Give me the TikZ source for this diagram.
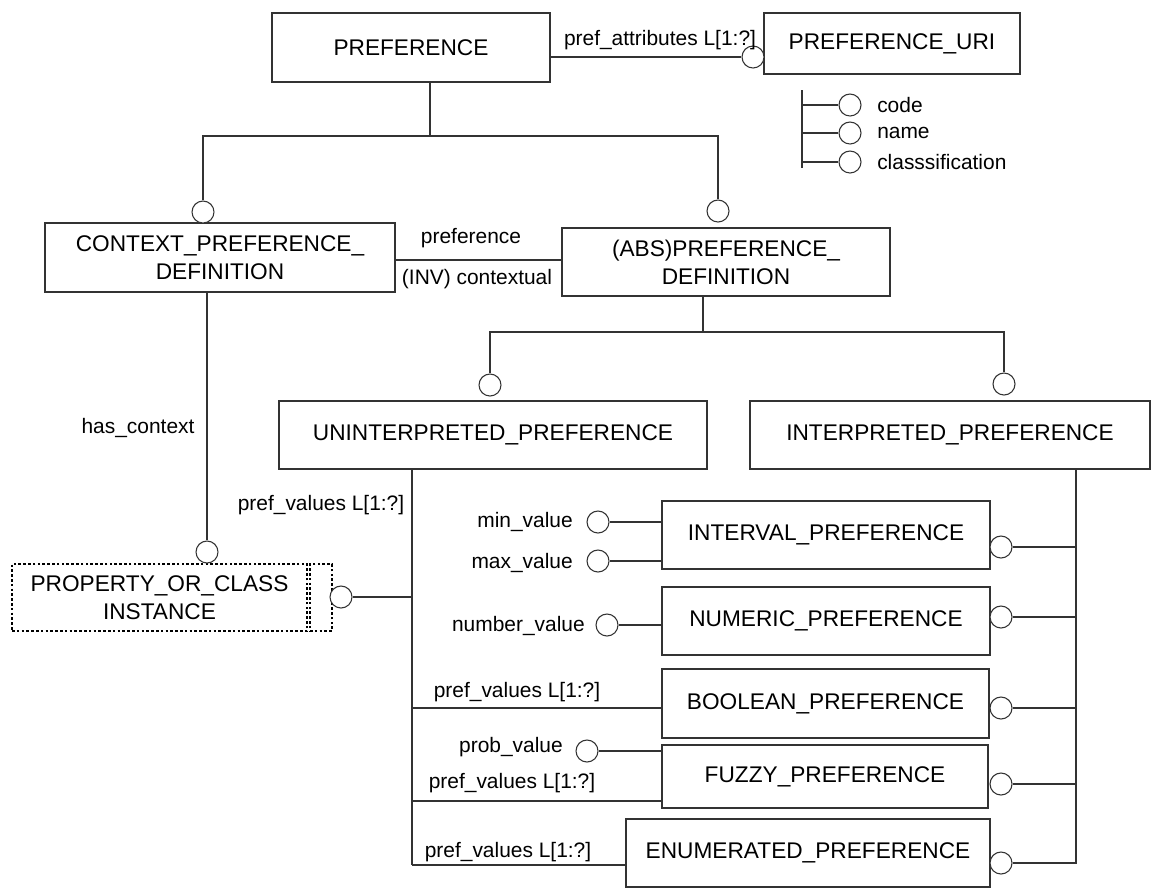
\documentclass[tikz,border=0pt]{standalone}
\usepackage{fontspec}
\setmainfont{Liberation Sans}
\definecolor{ln}{HTML}{333333}
\newcommand\mkbox[7]{%
  \pgfmathsetmacro\bcx{(#3+#5)/2}\pgfmathsetmacro\bcy{(#4+#6)/2}%
  \pgfmathsetmacro\bw{(#5-#3)*0.75}\pgfmathsetmacro\bh{(#6-#4)*0.75}%
  \node[#1, minimum width=\bw pt, minimum height=\bh pt] (#2) at (\bcx,\bcy) {#7};}
\begin{document}
\begin{tikzpicture}[x=0.75pt,y=-0.75pt,
  box/.style={draw=ln, line width=0.8pt, inner sep=0pt, align=center, font=\fontsize{17}{21}\selectfont},
  dotbox/.style={draw=black, line width=2pt, dash pattern=on 2pt off 1.6pt, inner sep=0pt, align=center, font=\fontsize{17}{21}\selectfont},
  circ/.style={circle, draw=ln, line width=0.8pt, fill=white, minimum size=16.5pt, inner sep=0pt},
  lbl/.style={inner sep=0pt, font=\fontsize{15.7}{19}\selectfont},
  conn/.style={draw=ln, line width=0.8pt}]
\path[fill=white] (0,0) rectangle (1160,894);
\useasboundingbox (0,0) rectangle (1160,894);

% boxes
\mkbox{box}{pref}{272}{13}{550}{82}{PREFERENCE}
\mkbox{box}{uri}{764}{13}{1020}{74}{PREFERENCE\_URI}
\mkbox{box}{ctx}{45}{223}{395}{292}{CONTEXT\_PREFERENCE\_\\DEFINITION}
\mkbox{box}{abs}{562}{228}{890}{296}{(ABS)PREFERENCE\_\\DEFINITION}
\mkbox{box}{unint}{279}{401}{707}{469}{UNINTERPRETED\_PREFERENCE}
\mkbox{box}{interp}{750}{401}{1150}{469}{INTERPRETED\_PREFERENCE}
\mkbox{box}{interval}{662}{501}{990}{569}{INTERVAL\_PREFERENCE}
\mkbox{box}{numeric}{662}{587}{990}{655}{NUMERIC\_PREFERENCE}
\mkbox{box}{boolean}{662}{669}{989}{738}{BOOLEAN\_PREFERENCE}
\mkbox{box}{fuzzy}{662}{745}{988}{808}{FUZZY\_PREFERENCE}
\mkbox{box}{enum}{626}{819}{990}{887}{ENUMERATED\_PREFERENCE}
\mkbox{dotbox}{prop}{12}{564}{307}{631}{PROPERTY\_OR\_CLASS\\INSTANCE}
\mkbox{dotbox}{propx}{310}{564}{332}{631}{}

% junction coordinates
\coordinate (j1) at (430,136);
\coordinate (j2) at (703,332);
\coordinate (uv) at (412,865);
\coordinate (rv) at (1076,864);
\coordinate (ut) at (802,90);
\coordinate (ub) at (802,168);

% circles
\node[circ] (curi) at (753,57) {};
\node[circ] (cctx) at (203,212) {};
\node[circ] (cabs) at (718,211) {};
\node[circ] (cunint) at (490,385) {};
\node[circ] (cinterp) at (1004,384) {};
\node[circ] (cproptop) at (207,552) {};
\node[circ] (cpropr) at (341,597) {};
\node[circ] (ccode) at (850,105) {};
\node[circ] (cname) at (850,133) {};
\node[circ] (cclass) at (850,162) {};
\node[circ] (cmin) at (598,522) {};
\node[circ] (cmax) at (598,561) {};
\node[circ] (cnum) at (607,625) {};
\node[circ] (cprob) at (587,751) {};
\node[circ] (r1) at (1001,547) {};
\node[circ] (r2) at (1001,617) {};
\node[circ] (r3) at (1001,708) {};
\node[circ] (r4) at (1001,784) {};
\node[circ] (r5) at (1001,863) {};

% connectors
\draw[conn] (pref.east |- curi) -- (curi);
\draw[conn] (pref.south -| j1) -- (j1);
\draw[conn] (cctx.north) |- (j1) -| (cabs.north);
\draw[conn] (ctx.east |- 0,260) -- (abs.west |- 0,260);
\draw[conn] (abs.south -| j2) -- (j2);
\draw[conn] (cunint.north) |- (j2) -| (cinterp.north);
\draw[conn] (ctx.south -| cproptop) -- (cproptop);
\draw[conn] (unint.south -| uv) -- (uv);
\draw[conn] (cpropr) -- (cpropr -| uv);
\draw[conn] (interp.south -| rv) -- (rv);
\foreach \c in {r1,r2,r3,r4,r5} \draw[conn] (\c) -- (\c -| rv);
\draw[conn] (ut) -- (ub);
\foreach \c in {ccode,cname,cclass} \draw[conn] (\c) -- (\c -| ut);
\draw[conn] (cmin) -- (cmin -| interval.west);
\draw[conn] (cmax) -- (cmax -| interval.west);
\draw[conn] (cnum) -- (cnum -| numeric.west);
\draw[conn] (cprob) -- (cprob -| fuzzy.west);
\draw[conn] (uv |- 0,708) -- (boolean.west |- 0,708);
\draw[conn] (uv |- 0,801) -- (fuzzy.west |- 0,801);
\draw[conn] (uv) -- (uv -| enum.west);

% labels
\node[lbl] (lattr) at (660,40) {pref\_attributes L[1:?]};
\node[lbl, anchor=west] (lcode) at (877,105) {code};
\node[lbl, anchor=west] (lname) at (877,133) {name};
\node[lbl, anchor=west] (lclass) at (877,162) {classsification};
\node[lbl] (lpref) at (471,238) {preference};
\node[lbl] (linv) at (477,279) {(INV) contextual};
\node[lbl] (lctx) at (138,428) {has\_context};
\node[lbl] (lpv1) at (321,505) {pref\_values L[1:?]};
\node[lbl, anchor=east] (lmin) at (573,522) {min\_value};
\node[lbl, anchor=east] (lmax) at (573,563) {max\_value};
\node[lbl, anchor=east] (lnum) at (585,626) {number\_value};
\node[lbl] (lpv2) at (517,692) {pref\_values L[1:?]};
\node[lbl] (lprob) at (511,747) {prob\_value};
\node[lbl] (lpv3) at (512,783) {pref\_values L[1:?]};
\node[lbl] (lpv4) at (508,852) {pref\_values L[1:?]};
\end{tikzpicture}
\end{document}
